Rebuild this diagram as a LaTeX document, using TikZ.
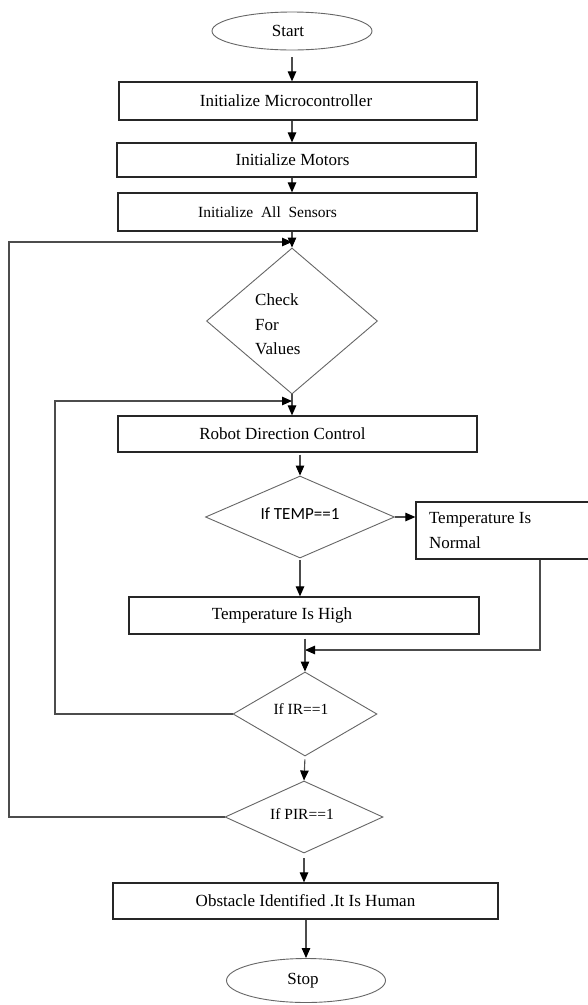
\documentclass[tikz,border=0pt]{standalone}
\usepackage{fontspec}
\setmainfont{Liberation Serif}
\newfontfamily\calib{Carlito}
\usetikzlibrary{shapes.geometric,arrows.meta}
\begin{document}
\begin{tikzpicture}[x=1pt,y=-1pt,
  base/.style={font=\fontsize{17}{20}\selectfont, inner sep=0pt},
  box/.style={base, draw=black!85, line width=1.2pt, rectangle},
  oval/.style={base, draw=black!60, line width=0.9pt, ellipse},
  dia/.style={draw=black!60, line width=0.9pt, diamond, inner sep=0pt},
  txt/.style={base},
  line/.style={draw=black!70, line width=1.1pt},
  arr/.style={line, -{Triangle[length=10pt,width=8.5pt,color=black]}},
  tshift/.style={execute at begin node={\hspace*{#1}}, execute at end node={\hspace*{-#1}}},
]
\useasboundingbox[fill=white] (0,0) rectangle (588,1005);

% nodes
\node[oval, minimum width=160pt, minimum height=38pt, tshift=-4pt] (start) at (292,31) {Start};
\node[box, minimum width=358pt, minimum height=38pt, tshift=-12pt] (mcu) at (298,101) {Initialize Microcontroller};
\node[box, minimum width=359pt, minimum height=34pt, tshift=-4pt] (mot) at (296.5,160) {Initialize Motors};
\node[box, minimum width=359pt, minimum height=38pt, tshift=-30pt, font=\fontsize{15.5}{18}\selectfont] (sen) at (297.5,212) {Initialize\ \ All\ \ Sensors};
\node[dia, minimum width=171pt, minimum height=146pt] (chk) at (292,321) {};
\node[txt, anchor=west, align=left, font=\fontsize{17}{24.5}\selectfont] (chkt) at (255,324.5) {Check\\For\\Values};
\node[box, minimum width=359pt, minimum height=36pt, tshift=-15pt] (rdc) at (297.5,434) {Robot Direction Control};
\node[dia, minimum width=189pt, minimum height=82pt] (temp) at (300,517) {};
\node[txt, font=\calib\fontsize{17}{20}\selectfont] (tempt) at (300,514) {If TEMP==1};
\node[box, minimum width=179pt, minimum height=57pt, text width=153pt, align=flush left, inner xsep=13pt, font=\fontsize{17}{25}\selectfont] (norm) at (505.5,530.5) {Temperature Is\\Normal};
\node[box, minimum width=350pt, minimum height=37pt, tshift=-22pt] (high) at (304,615.5) {Temperature Is High};
\node[dia, minimum width=144pt, minimum height=84pt] (ir) at (305,714) {};
\node[txt, font=\fontsize{15.5}{18}\selectfont] (irt) at (301,709) {If IR==1};
\node[dia, minimum width=158pt, minimum height=72pt] (pir) at (304,817) {};
\node[txt, font=\fontsize{15.5}{18}\selectfont] (pirt) at (302,814) {If PIR==1};
\node[box, minimum width=385pt, minimum height=36pt] (obs) at (305.5,901) {Obstacle Identified .It Is Human};
\node[oval, minimum width=159pt, minimum height=44pt, tshift=-3pt] (stop) at (306,980.5) {Stop};

% helper coordinates
\coordinate (l1) at (9,242);
\coordinate (l2) at (55,401);
\coordinate (m) at (540,650);

% connectors
\draw[arr, shorten <=7pt] (start.south) -- (start.south |- mcu.north);
\draw[arr] (mcu.south -| start.south) -- (mot.north -| start.south);
\draw[arr] (mot.south -| start.south) -- (sen.north -| start.south);
\draw[arr] (sen.south -| chk.north) -- (chk.north);
\draw[arr] (pir.west) -| (l1) -- (l1 -| chk.north);
\draw[arr] (chk.south) -- (chk.south |- rdc.north);
\draw[arr] (ir.west) -| (l2) -- (l2 -| chk.south);
\draw[arr, shorten <=2pt] (rdc.south -| temp.north) -- (temp.north);
\draw[arr] (temp.east) -- (temp.east -| norm.west);
\draw[arr, shorten <=2pt] (temp.south) -- (temp.south |- high.north);
\draw[arr] (norm.south -| m) |- (ir.north |- m);
\draw[arr, shorten <=4pt] (high.south -| ir.north) -- (ir.north);
\draw[arr, shorten <=3pt] (ir.south) -- (pir.north);
\draw[arr, shorten <=5pt] (pir.south) -- (pir.south |- obs.north);
\draw[arr] (obs.south -| stop.north) -- (stop.north);
\end{tikzpicture}
\end{document}
